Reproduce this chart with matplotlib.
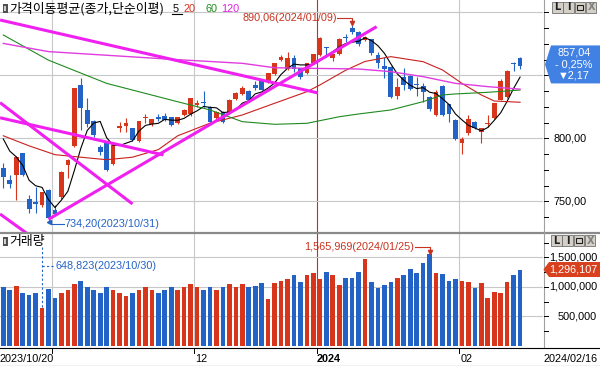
import matplotlib
matplotlib.use('Agg')
import matplotlib.pyplot as plt
from matplotlib.patches import Rectangle, Polygon
from matplotlib import font_manager as fm

# ---------------- data ----------------
dates = ['2023/10/20', '2023/10/23', '2023/10/24', '2023/10/25', '2023/10/26', '2023/10/27', '2023/10/30', '2023/10/31',
         '2023/11/01', '2023/11/02', '2023/11/03', '2023/11/06', '2023/11/07', '2023/11/08', '2023/11/09', '2023/11/10',
         '2023/11/13', '2023/11/14', '2023/11/15', '2023/11/16', '2023/11/17', '2023/11/20', '2023/11/21', '2023/11/22',
         '2023/11/23', '2023/11/24', '2023/11/27', '2023/11/28', '2023/11/29', '2023/11/30',
         '2023/12/01', '2023/12/04', '2023/12/05', '2023/12/06', '2023/12/07', '2023/12/08', '2023/12/11', '2023/12/12',
         '2023/12/13', '2023/12/14', '2023/12/15', '2023/12/18', '2023/12/19', '2023/12/20', '2023/12/21', '2023/12/22',
         '2023/12/26', '2023/12/27', '2023/12/28',
         '2024/01/02', '2024/01/03', '2024/01/04', '2024/01/05', '2024/01/08', '2024/01/09', '2024/01/10', '2024/01/11',
         '2024/01/12', '2024/01/15', '2024/01/16', '2024/01/17', '2024/01/18', '2024/01/19', '2024/01/22', '2024/01/23',
         '2024/01/24', '2024/01/25', '2024/01/26', '2024/01/29', '2024/01/30', '2024/01/31',
         '2024/02/01', '2024/02/02', '2024/02/05', '2024/02/06', '2024/02/07', '2024/02/08', '2024/02/13', '2024/02/14',
         '2024/02/15', '2024/02/16']

opens = [776.1, 766.9, 770.9, 788.0, 751.5, 749.7, 747.0, 758.9, 743.1, 753.6,
         778.8, 794.1, 842.3, 822.5, 814.0, 793.3, 797.3, 779.6, 807.9, 809.7,
         807.9, 797.8, 815.8, 811.1, 816.6, 817.7, 816.6, 811.9, 818.5, 819.0,
         826.4, 828.5, 825.1, 816.4, 821.1, 819.8, 831.2, 834.9, 837.5, 842.3,
         846.3, 845.0, 850.8, 862.1, 855.0, 864.0, 855.5, 851.5, 859.5, 866.1,
         872.2, 864.0, 866.6, 880.7, 887.3, 884.0, 878.0, 878.8, 866.1, 857.4,
         856.8, 833.6, 848.9, 849.4, 843.0, 841.8, 833.0, 818.5, 841.5, 827.0,
         814.5, 796.5, 803.9, 812.7, 804.7, 811.2, 816.4, 830.4, 833.0, 859.5,
         863.5]
highs = [780.1, 770.9, 785.8, 788.5, 755.0, 761.6, 757.6, 759.5, 747.0, 774.0,
         783.3, 840.0, 847.6, 831.7, 814.5, 794.7, 798.0, 795.0, 813.2, 815.8,
         808.5, 814.0, 819.3, 815.5, 819.3, 819.8, 817.0, 817.0, 823.5, 832.0,
         830.5, 837.5, 826.0, 822.0, 822.0, 831.0, 837.0, 841.8, 838.0, 845.5,
         847.0, 852.0, 860.0, 866.0, 868.2, 866.1, 856.0, 860.0, 867.0, 880.0,
         872.5, 867.0, 879.3, 882.8, 890.06, 885.0, 881.5, 879.0, 868.8, 864.8,
         857.0, 847.6, 855.5, 850.0, 848.9, 843.6, 833.5, 838.3, 842.0, 827.5,
         815.0, 801.3, 818.5, 814.0, 808.0, 818.5, 828.0, 847.1, 854.0, 860.8,
         864.8]
lows = [760.3, 760.3, 751.0, 770.0, 741.0, 740.4, 745.7, 734.2, 739.1, 752.0,
        768.2, 793.0, 806.6, 809.2, 801.3, 786.7, 774.0, 779.0, 805.2, 805.2,
        798.0, 797.0, 811.9, 810.0, 814.0, 814.0, 810.0, 811.0, 817.5, 818.0,
        825.0, 825.0, 812.0, 815.0, 812.0, 819.0, 830.0, 834.0, 829.0, 838.3,
        838.0, 844.0, 850.0, 861.0, 854.5, 852.9, 847.0, 851.0, 859.0, 865.0,
        864.8, 861.4, 866.0, 876.7, 882.5, 873.5, 877.0, 866.0, 855.5, 847.6,
        832.0, 830.9, 838.3, 838.0, 833.8, 829.1, 822.0, 818.0, 818.0, 812.7,
        798.7, 787.3, 802.6, 807.0, 796.0, 809.2, 815.0, 830.0, 832.0, 853.4,
        855.0]
closes = [769.5, 763.7, 785.4, 770.9, 743.9, 747.8, 757.1, 736.5, 739.9, 773.5,
          782.8, 839.6, 824.3, 811.1, 802.6, 789.4, 774.8, 794.7, 809.7, 811.9,
          798.6, 813.7, 817.1, 815.0, 815.0, 814.5, 810.5, 816.6, 822.5, 831.7,
          827.7, 827.7, 813.2, 820.6, 812.7, 830.4, 836.2, 839.6, 830.4, 839.6,
          838.3, 851.6, 859.5, 864.3, 864.0, 855.0, 848.4, 859.5, 866.6, 879.3,
          871.4, 866.6, 878.8, 879.9, 884.6, 875.0, 880.7, 867.4, 859.5, 854.7,
          833.0, 841.0, 842.3, 839.1, 842.0, 836.5, 823.0, 837.0, 818.5, 819.0,
          799.2, 799.4, 815.3, 807.9, 807.9, 812.3, 827.7, 845.5, 853.4, 859.2,
          857.04]
volumes = [1000000, 950000, 1020000, 900000, 860000, 900000, 648823, 960000, 820000, 900000,
           950000, 1050000, 1100000, 1000000, 950000, 900000, 1000000, 950000, 900000, 850000,
           900000, 950000, 1000000, 950000, 900000, 950000, 1000000, 950000, 1000000, 1050000,
           1000000, 950000, 1000000, 950000, 1000000, 1050000, 1000000, 1050000, 1000000, 1025000,
           1070000, 800000, 1070000, 1110000, 1140000, 1210000, 1080000, 1210000, 1240000, 1140000,
           1250000, 1210000, 1040000, 1160000, 1160000, 1260000, 1470000, 1090000, 990000, 1030000,
           1090000, 1160000, 1210000, 1310000, 1240000, 1410000, 1565969, 1230000, 1220000, 1100000,
           1130000, 1100000, 1090000, 980000, 1060000, 820000, 910000, 890000, 1080000, 1210000,
           1296107]

pre_closes = [812.0, 808.0, 805.0, 803.0]   # closes before the window (for the 5-day MA)

ma20_idx = [0, 4, 8, 12, 16, 20, 24, 27, 32, 37, 42, 47, 49, 53, 56, 60, 65, 68, 71, 74, 76, 80]
ma20_val = [802, 794, 787, 785, 783, 785, 791, 802, 812, 818.5, 827.8, 837, 842.3, 854, 861, 864.8,
            860.8, 854.2, 843.6, 834.4, 829.6, 828.6]
ma60_idx = [0, 7, 16, 27, 32, 37, 42, 47, 52, 55, 60, 65, 68, 70, 75, 80]
ma60_val = [882, 862, 843.6, 829, 822.5, 813.2, 811.1, 811.9, 817.1, 819.3, 822.5, 829.1, 834.4,
            835.2, 836.5, 838.3]
ma120_idx = [0, 7, 26, 37, 42, 48, 55, 60, 65, 70, 75, 80]
ma120_val = [875.3, 868.8, 862.7, 859.5, 856, 855.5, 855, 852.9, 848.9, 843.6, 841, 839]

# user-drawn trend lines: (start index, start price, end index, end price)
trend_lines = [(-0.5, 893.9, 48.7, 836.0),
               (-0.5, 816.3, 24.8, 786.8),
               (-0.5, 828.3, 20.0, 747.9),
               (-0.5, 739.9, 3.8, 724.0),
               (7.0, 735.7, 57.8, 888.6)]

price_ticks = [750, 800, 850, 900]
price_labels = [750, 800]
vol_ticks = [500000, 1000000, 1500000]

change_abs = -2.17
change_pct = -0.25

# ---------------- style ----------------
W, H = 600, 366
RED = '#d8361c'
BLUE = '#2463c6'
GRID = '#c8c8c8'

def has_font(name):
    try:
        fm.findfont(fm.FontProperties(family=name), fallback_to_default=False)
        return True
    except Exception:
        return False

if has_font('Liberation Sans Narrow'):
    NUMF, NUMS = 'Liberation Sans Narrow', 9.4
else:
    NUMF, NUMS = 'Liberation Sans', 7.8
KRF = ['Noto Sans CJK KR', 'DejaVu Sans']

fig = plt.figure(figsize=(W / 100, H / 100), dpi=100)
fig.patch.set_facecolor('white')

n = len(dates)
xs = list(range(n))
XL = (-0.51, 83.55)

ax = fig.add_axes([0, 1 - 232 / H, 543 / W, 232 / H])
axv = fig.add_axes([0, 1 - 346 / H, 543 / W, (346 - 233) / H])
for a in (ax, axv):
    a.set_xlim(*XL)
    for s in a.spines.values():
        s.set_visible(False)
    a.set_xticks([])
    a.set_yticks([])
    a.set_facecolor('none')
ax.set_ylim(725.63, 909.76)
axv.set_ylim(0, 1915000)

# month boundaries
bounds = []
for i in range(1, n):
    if dates[i][:7] != dates[i - 1][:7]:
        bounds.append((i - 0.5, dates[i]))

for b, d in bounds:
    col = '#e02020' if d[5:7] == '01' else GRID
    for a in (ax, axv):
        a.axvline(b, color=col, lw=0.8, zorder=1)
for t in price_ticks:
    ax.axhline(t, color=GRID, lw=0.8, zorder=1)
for t in vol_ticks:
    axv.axhline(t, color=GRID, lw=0.8, zorder=1)

# candles
cols = []
for i in xs:
    o, h, l, c = opens[i], highs[i], lows[i], closes[i]
    col = RED if c >= o else BLUE
    cols.append(col)
    ax.plot([i, i], [l, h], color=col, lw=0.8, zorder=3, solid_capstyle='butt')
    bot = min(o, c)
    ht = max(abs(c - o), 0.8)
    ax.add_patch(Rectangle((i - 0.37, bot), 0.74, ht, facecolor=col, edgecolor='none', zorder=3))

# moving averages
allc = pre_closes + closes
ma5 = [sum(allc[i:i + 5]) / 5 for i in range(n)]
ax.plot(xs, ma5, color='black', lw=0.8, zorder=4)
ax.plot(ma20_idx, ma20_val, color='#c8201e', lw=0.8, zorder=4)
ax.plot(ma60_idx, ma60_val, color='#1f8a1f', lw=0.8, zorder=4)
ax.plot(ma120_idx, ma120_val, color='#e03ce0', lw=1.0, zorder=4)

for x0, y0, x1, y1 in trend_lines:
    ax.plot([x0, x1], [y0, y1], color='#f020f0', lw=2.2, zorder=5, solid_capstyle='butt')

# volume bars
axv.bar(xs, volumes, width=0.72, color=cols, zorder=3)

# ---------------- overlay in pixel coords ----------------
ov = fig.add_axes([0, 0, 1, 1], zorder=10)
ov.set_xlim(0, W)
ov.set_ylim(H, 0)
ov.axis('off')
ov.patch.set_alpha(0)

def to_px(a, x, y):
    X, Y = a.transData.transform((x, y))
    return X, H - Y

# frame lines
ov.plot([0, W], [232.5, 232.5], color='#8a8a8a', lw=1.6)
ov.plot([543.5, 543.5], [0, 347.5], color='#a0a0a0', lw=0.8)
ov.plot([0, W], [347.5, 347.5], color='black', lw=0.8)
ov.plot([0, W], [365.5, 365.5], color='black', lw=0.8)

# price ticks
t = 737.5
while t <= 905:
    _, py = to_px(ax, 0, t)
    ov.plot([543.5, 547.5], [py, py], color='black', lw=0.7)
    t += 12.5
for t in price_labels:
    _, py = to_px(ax, 0, t)
    ov.text(553, py, f'{t:,.2f}'.replace('.', ','), fontsize=NUMS, family=NUMF,
            va='center', ha='left', color='black')
v = 250000
while v < 1900000:
    _, py = to_px(axv, 0, v)
    ov.plot([543.5, 547.5], [py, py], color='black', lw=0.7)
    v += 250000
for t in vol_ticks:
    _, py = to_px(axv, 0, t)
    ov.text(597, py, f'{t:,}', fontsize=NUMS, family=NUMF, va='center', ha='right', color='black')

# last price box
last = closes[-1]
_, lp = to_px(ax, 0, last)
ov.add_patch(Polygon([(551, lp - 21), (600, lp - 21), (600, lp + 17), (551, lp + 17), (545, lp - 2)],
                     closed=True, facecolor='#4281e4', edgecolor='none', zorder=5))
ov.text(574, lp - 14, f'{last:,.2f}'.replace('.', ','), fontsize=NUMS, family=NUMF, color='white',
        ha='center', va='center', zorder=6)
ov.text(574, lp - 2, f'- {abs(change_pct):.2f}%'.replace('.', ','), fontsize=NUMS, family=NUMF,
        color='white', ha='center', va='center', zorder=6)
ov.text(574, lp + 9.5, '▼' + f'{abs(change_abs):.2f}'.replace('.', ','), fontsize=NUMS,
        family=[NUMF, 'DejaVu Sans'], color='white', ha='center', va='center', zorder=6)

# last volume box
_, lv = to_px(axv, 0, volumes[-1])
ov.add_patch(Polygon([(549, lv - 7.5), (600, lv - 7.5), (600, lv + 7.5), (549, lv + 7.5), (543.5, lv)],
                     closed=True, facecolor='#d8401e', edgecolor='none', zorder=5))
ov.text(573.5, lv, f'{volumes[-1]:,}', fontsize=NUMS, family=NUMF, color='white', ha='center', va='center',
        zorder=6)

# high / low annotations
hi_i = max(xs, key=lambda i: highs[i])
lo_i = min(xs, key=lambda i: lows[i])
hx, hy = to_px(ax, hi_i, highs[hi_i])
ov.plot([hx - 15, hx, hx], [hy - 7, hy - 7, hy - 2], color='#c8321e', lw=0.8)
ov.plot([hx], [hy - 2], marker='v', ms=3, color='#c8321e')
ov.text(hx - 15.5, hy - 7, f'{highs[hi_i]:,.2f}'.replace('.', ',') + f'({dates[hi_i]})',
        fontsize=NUMS, family=NUMF, color='#c8321e', ha='right', va='center')
lx, ly = to_px(ax, lo_i, lows[lo_i])
ov.plot([lx + 2, lx + 15], [ly + 3, ly + 3], color=BLUE, lw=0.8)
ov.plot([lx + 0.5], [ly + 1], marker='<', ms=3, color=BLUE)
ov.text(lx + 16, ly + 3, f'{lows[lo_i]:,.2f}'.replace('.', ',') + f'({dates[lo_i]})',
        fontsize=NUMS, family=NUMF, color=BLUE, ha='left', va='center')

vmax_i = max(xs, key=lambda i: volumes[i])
vmin_i = min(xs, key=lambda i: volumes[i])
mx, my = to_px(axv, vmax_i, volumes[vmax_i])
ov.plot([mx - 15, mx, mx], [my - 6.5, my - 6.5, my - 1.5], color='#c8321e', lw=0.8)
ov.plot([mx], [my - 1.5], marker='v', ms=3, color='#c8321e')
ov.text(mx - 15.5, my - 6.5, f'{volumes[vmax_i]:,}' + f'({dates[vmax_i]})',
        fontsize=NUMS, family=NUMF, color='#c8321e', ha='right', va='center')
nx, ny = to_px(axv, vmin_i, volumes[vmin_i])
ov.plot([nx, nx], [247, ny - 1], color=BLUE, lw=0.8, ls=(0, (2, 2)))
ov.plot([nx, nx + 12], [266, 266], color=BLUE, lw=0.8, ls=(0, (2, 2)))
ov.text(nx + 13, 266, f'{volumes[vmin_i]:,}' + f'({dates[vmin_i]})',
        fontsize=NUMS, family=NUMF, color=BLUE, ha='left', va='center')

# legends
def icon(y):
    ov.add_patch(Rectangle((2.5, y), 5, 9, facecolor='#505050', edgecolor='none'))
    ov.add_patch(Rectangle((4, y + 2), 2, 5, facecolor='#d0d0d0', edgecolor='none'))

icon(3.5)
ov.text(9, 8.5, '가격이동평균(종가,단순이평)', fontsize=9.3, family=KRF, color='black', ha='left', va='center')
ov.text(173, 8.5, '5', fontsize=NUMS, family=NUMF, color='black', ha='left', va='center')
ov.plot([172, 182], [13.5, 13.5], color='black', lw=0.8)
ov.text(183, 8.5, '20', fontsize=NUMS, family=NUMF, color='#d8301e', ha='left', va='center')
ov.text(205, 8.5, '60', fontsize=NUMS, family=NUMF, color='#1f8a1f', ha='left', va='center')
ov.text(221, 8.5, '120', fontsize=NUMS, family=NUMF, color='#e020e0', ha='left', va='center')

icon(236.5)
ov.text(9, 241, '거래량', fontsize=9.3, family=KRF, color='black', ha='left', va='center')

# window buttons
def buttons(x0, y0):
    labels = ['L', 'I', '', 'X']
    for k, lab in enumerate(labels):
        bx = x0 + k * 11.3
        ov.add_patch(Rectangle((bx, y0), 10.5, 10.5, facecolor='#d4d0c8', edgecolor='#707070', lw=0.6))
        if lab:
            ov.text(bx + 5.25, y0 + 5.5, lab, fontsize=7, family='DejaVu Sans', fontweight='bold',
                    color='#202020' if lab != 'X' else '#808080', ha='center', va='center')
        else:
            ov.add_patch(Rectangle((bx + 2.5, y0 + 3), 5.5, 5, facecolor='none', edgecolor='#202020', lw=0.8))

buttons(552, 2)
buttons(551, 235)

# x axis labels and ticks
ov.text(0, 358.5, dates[0], fontsize=NUMS, family=NUMF, ha='left', va='center', color='black')
ov.text(598, 358.5, dates[-1], fontsize=NUMS, family=NUMF, ha='right', va='center', color='black')
for b, d in bounds:
    bx, _ = to_px(axv, b, 0)
    ov.plot([bx, bx], [347.5, 353], color='black', lw=0.7)
    if d[5:7] == '11':
        continue
    if d[5:7] == '01':
        ov.text(bx, 358.5, d[:4], fontsize=NUMS, family=NUMF, fontweight='bold', ha='left', va='center')
    else:
        ov.text(bx + 1.5, 358.5, d[5:7], fontsize=NUMS, family=NUMF, ha='left', va='center')

fig.savefig('out.png', dpi=100, facecolor='white')
